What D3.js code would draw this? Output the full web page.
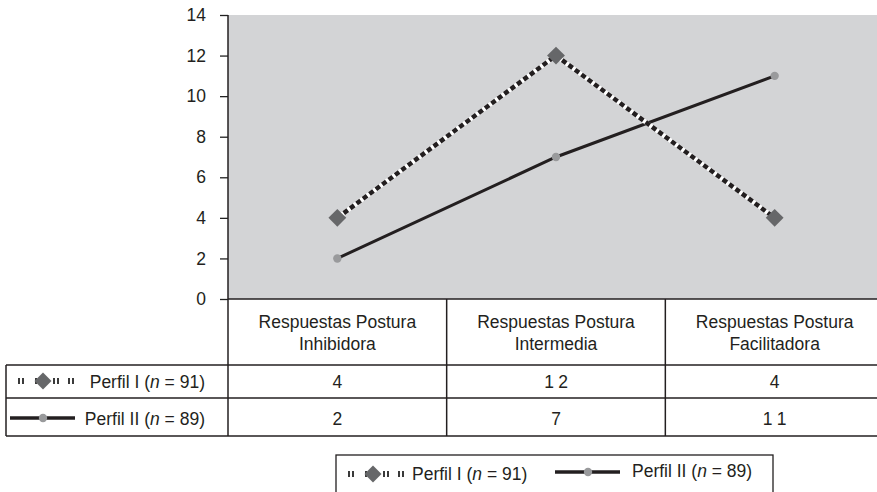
<!DOCTYPE html>
<html><head><meta charset="utf-8">
<script src="https://cdn.jsdelivr.net/npm/d3@7"></script>
<style>body{margin:0;background:#fff}svg{display:block;font-family:"Liberation Sans",Arial,sans-serif}</style>
</head><body><svg id="c" width="877" height="492"></svg>
<script>
const categories = ["Respuestas Postura|Inhibidora", "Respuestas Postura|Intermedia", "Respuestas Postura|Facilitadora"];
const perfil1 = [4, 12, 4];
const perfil2 = [2, 7, 11];
const yTicks = [0, 2, 4, 6, 8, 10, 12, 14];
const seriesNames = ["Perfil I", "Perfil II"];
const seriesN = [91, 89];

const FS = 17.5;
const tf = "Liberation Sans, Arial, sans-serif";
const svg = d3.select("#c");
const L = 228, R = 884, T = 15, B = 299;
const x = d3.scaleBand().domain(categories).range([L, R]);
const y = d3.scaleLinear().domain([0, 14]).range([B, T]);

svg.append("rect").attr("x", L).attr("y", T).attr("width", R - L).attr("height", B - T).attr("fill", "#d3d4d6");

const yAxis = svg.append("g").attr("transform", `translate(${L},0)`)
  .call(d3.axisLeft(y).tickValues(yTicks).tickSize(8).tickPadding(14).tickFormat(d3.format("d")));
yAxis.select(".domain").remove();
yAxis.selectAll("line").attr("stroke", "#222").attr("stroke-width", 1.3);
yAxis.selectAll("text").attr("font-size", FS).attr("fill", "#231f20").attr("font-family", tf);

const cx = d => x(d) + x.bandwidth() / 2;
const line = d3.line().x((d, i) => cx(categories[i])).y(d => y(d));

// Perfil II solid
svg.append("path").datum(perfil2).attr("d", line).attr("fill", "none").attr("stroke", "#231f20").attr("stroke-width", 3);
svg.selectAll(".c2").data(perfil2).enter().append("circle")
  .attr("cx", (d, i) => cx(categories[i])).attr("cy", d => y(d)).attr("r", 4.2).attr("fill", "#999a9c");

// Perfil I dashed black/white
svg.append("path").datum(perfil1).attr("d", line).attr("fill", "none").attr("stroke", "#fff").attr("stroke-width", 4.5);
svg.append("path").datum(perfil1).attr("d", line).attr("fill", "none").attr("stroke", "#231f20").attr("stroke-width", 4.5).attr("stroke-dasharray", "5,3");
svg.selectAll(".d1").data(perfil1).enter().append("rect")
  .attr("x", -6.3).attr("y", -6.3).attr("width", 12.6).attr("height", 12.6)
  .attr("transform", (d, i) => `translate(${cx(categories[i])},${y(d)}) rotate(45)`)
  .attr("fill", "#666769");

// Table
const g = svg.append("g").attr("stroke", "#231f20").attr("stroke-width", 1.5);
g.append("line").attr("x1", L).attr("x2", 877).attr("y1", B).attr("y2", B);
g.append("line").attr("x1", L).attr("x2", L).attr("y1", T).attr("y2", 436);
[365, 398, 436].forEach(yy => g.append("line").attr("x1", 6).attr("x2", 877).attr("y1", yy).attr("y2", yy));
g.append("line").attr("x1", 6).attr("x2", 6).attr("y1", 365).attr("y2", 436);
categories.slice(1).forEach(c => g.append("line").attr("x1", x(c)).attr("x2", x(c)).attr("y1", B).attr("y2", 436));

categories.forEach(c => {
  const parts = c.split("|");
  parts.forEach((p, k) => svg.append("text").attr("x", cx(c)).attr("y", 328 + k * 22).attr("text-anchor", "middle")
    .attr("font-size", FS).attr("fill", "#231f20").attr("font-family", tf).text(p));
});
[perfil1, perfil2].forEach((s, r) => {
  s.forEach((v, i) => {
    const t = svg.append("text").attr("y", [388, 425][r]).attr("text-anchor", "middle")
      .attr("font-size", FS).attr("fill", "#231f20").attr("font-family", tf);
    if (v >= 10) {
      const str = String(v);
      const c0 = cx(categories[i]);
      t.attr("text-anchor", "middle");
      [...str].forEach((ch, k) => svg.append("text").attr("x", c0 + (k - 0.5) * 14).attr("y", [388, 425][r])
        .attr("text-anchor", "middle").attr("font-size", FS).attr("fill", "#231f20").attr("font-family", tf).text(ch));
      t.remove();
    } else {
      t.attr("x", cx(categories[i])).text(v);
    }
  });
});

function markerI(gx, gy) {
  const m = svg.append("g").attr("transform", `translate(${gx},${gy})`);
  [[0, 2], [4, 2], [17, 2], [21, 2], [35, 2], [39, 2], [50, 2], [54, 2]].forEach(([a, w]) =>
    m.append("rect").attr("x", a).attr("y", -3).attr("width", w).attr("height", 6).attr("fill", "#3a3a3a"));
  m.append("rect").attr("x", -6).attr("y", -6).attr("width", 12).attr("height", 12)
    .attr("transform", "translate(25,0) rotate(45)").attr("fill", "#666769");
  return m;
}
function markerII(gx, gy) {
  const m = svg.append("g").attr("transform", `translate(${gx},${gy})`);
  m.append("line").attr("x1", 0).attr("x2", 65).attr("y1", 0).attr("y2", 0).attr("stroke", "#231f20").attr("stroke-width", 3.5);
  m.append("circle").attr("cx", 33).attr("cy", 0).attr("r", 4.2).attr("fill", "#999a9c");
  return m;
}
function label(tx, ty, r, anchor) {
  const t = svg.append("text").attr("x", tx).attr("y", ty).attr("font-size", FS).attr("fill", "#231f20")
    .attr("font-family", tf).attr("text-anchor", anchor);
  t.append("tspan").text(seriesNames[r] + " (");
  t.append("tspan").attr("font-style", "italic").text("n");
  t.append("tspan").text(" = " + seriesN[r] + ")");
}
markerI(18, 381);
label(205, 388, 0, "end");
markerII(10, 418);
label(205, 425, 1, "end");

// Legend
svg.append("rect").attr("x", 336).attr("y", 455).attr("width", 437).attr("height", 45)
  .attr("fill", "none").attr("stroke", "#231f20").attr("stroke-width", 1.3);
markerI(348, 474);
label(412, 480, 0, "start");
markerII(555, 472);
label(632, 477, 1, "start");
</script></body></html>
